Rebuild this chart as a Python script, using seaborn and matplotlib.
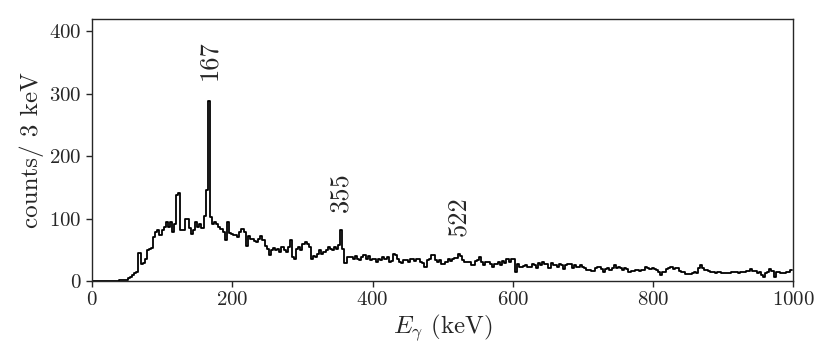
import numpy as np
import pandas as pd
import matplotlib
matplotlib.use("Agg")
import matplotlib.pyplot as plt
import seaborn as sns

#%%
# gamma spectrum, 3 keV bins from 0 to 999 keV
bin_width = 3

counts_0_210 = [0] * 13 + [1, 1, 2, 2, 4, 6, 9, 12, 15,
    45, 27, 28, 36, 50, 52, 53, 71, 79, 82, 74, 81, 87, 94, 87, 94, 79, 92,
    138, 141, 82, 82, 99, 99, 85, 76, 82, 94, 87, 91, 85, 104, 146, 289,
    103, 92, 94, 91, 87, 84, 79, 66, 94, 77, 76, 74, 73, 71]

counts_210_417 = [79, 83, 79, 56,
    72, 67, 67, 64, 63, 68, 72, 66, 56, 52, 42, 50, 53, 50, 52, 47, 55, 50,
    47, 55, 65, 39, 36, 52, 55, 50, 60, 63, 59, 55, 36, 40, 39, 44, 50, 44,
    47, 50, 55, 52, 50, 55, 52, 58, 82,
    52, 28, 39, 38, 39, 36, 40, 36, 34, 39, 42, 36, 40, 34, 36, 35, 31, 35,
    34, 38]

counts_417_711 = [36, 38, 30, 32, 43, 42, 36, 30, 28, 34, 33, 31, 35, 35, 32,
    36, 36, 30, 28, 23, 34, 36, 41, 41, 34, 30, 34, 27, 27, 31, 36, 32, 36,
    37, 37, 43, 40, 34, 30, 31, 31, 26, 26, 32, 34, 39, 30, 26, 31, 31,
    27, 23, 27, 27, 30, 26, 32, 28, 36, 31, 36, 36, 15, 27, 22, 23, 24, 25,
    23, 22, 27, 26, 21, 28, 26, 30, 27, 27, 21, 28, 25, 26, 23, 27, 26, 19,
    26, 27, 27, 21, 25, 23, 23, 25, 22, 20, 18, 18]

counts_711_999 = [16, 16, 21, 22, 23, 19, 15, 19, 21, 18, 20, 25, 21, 23, 20,
    17, 21, 19, 15, 16, 16, 17, 18, 16, 18, 17, 23, 21, 19, 20, 19, 18, 15,
    9, 15, 15, 19, 21, 23, 19, 20, 20, 16, 14, 14, 11, 11,
    11, 13, 15, 13, 20, 26, 20, 18, 18, 16, 15, 15, 12, 15, 14, 13, 12, 12,
    12, 12, 14, 15, 14, 12, 15, 15, 14, 16, 16, 19, 16, 16, 12, 15, 10, 7,
    12, 15, 19, 16, 7, 14, 14, 12, 12, 12, 14, 15, 18]

peak_energies = [167, 355, 522]
peak_label_counts = [322, 110, 72]

#%%
counts = counts_0_210 + counts_210_417 + counts_417_711 + counts_711_999
n_bins = len(counts)
spectrum = pd.DataFrame({
    'energy': np.arange(n_bins) * bin_width + bin_width / 2,
    'counts': counts,
})

#%%
sns.set_style("ticks")
plt.rcParams['font.family'] = 'serif'
plt.rcParams['font.serif'] = ['cmr10', 'DejaVu Serif']
plt.rcParams['mathtext.fontset'] = 'cm'
plt.rcParams['axes.formatter.use_mathtext'] = True

fig = plt.figure(figsize=(8.3, 3.63), dpi=100)
ax = fig.add_axes([0.111, 0.226, 0.8446, 0.7218])

sns.histplot(data=spectrum, x='energy', weights='counts',
             binwidth=bin_width, binrange=(0, n_bins * bin_width),
             element='step', fill=False, color='black', linewidth=1.3, ax=ax)

for e, c in zip(peak_energies, peak_label_counts):
    ax.text(e, c, str(e), rotation=90, ha='center', va='bottom', fontsize=19)

ax.set_xlim(0, 1000)
ax.set_ylim(0, 420)
ax.set_xticks(np.arange(0, 1001, 200))
ax.set_yticks(np.arange(0, 401, 100))
ax.tick_params(labelsize=15, direction='out', length=4, width=1)
for s in ax.spines.values():
    s.set_linewidth(1.0)
    s.set_visible(True)
ax.set_xlabel(r'$E_\gamma$ (keV)', fontsize=18, labelpad=2)
ax.set_ylabel('counts/ 3 keV', fontsize=18, labelpad=4)

fig.savefig('out.png', dpi=100)
